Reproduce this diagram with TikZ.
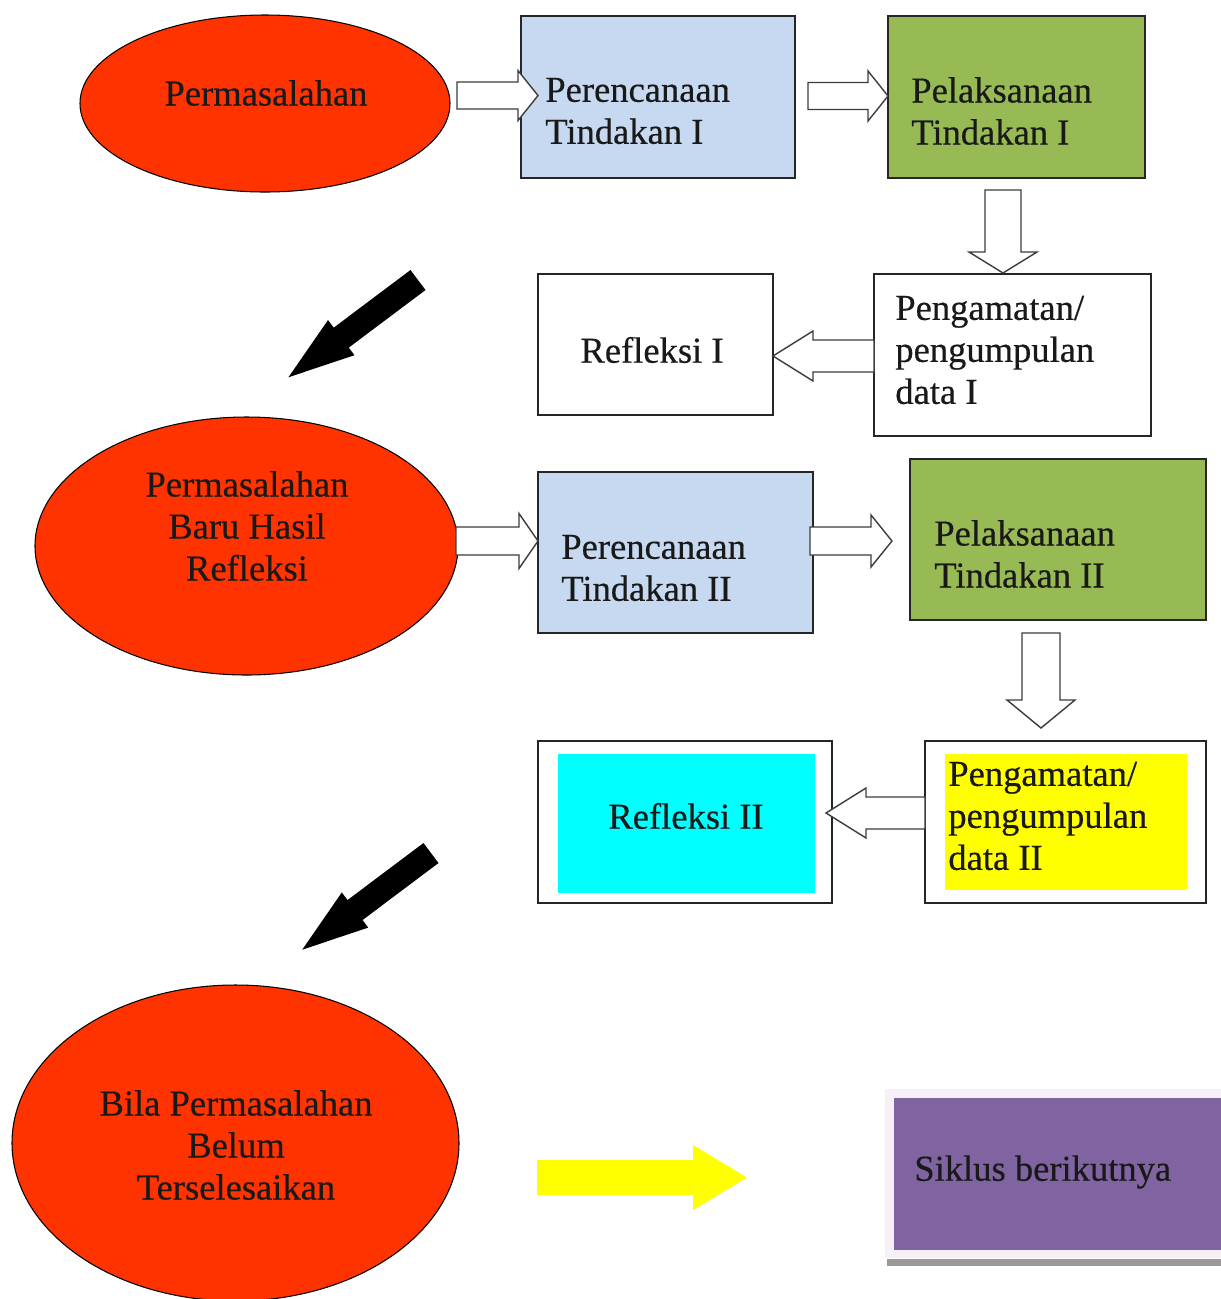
\documentclass[tikz,border=0pt]{standalone}
\usepackage{fontspec}
\setmainfont[FakeBold=0.4]{Liberation Serif}
\usetikzlibrary{fit,shapes.geometric}
\definecolor{redE}{RGB}{255,51,0}
\definecolor{lblue}{RGB}{198,217,240}
\definecolor{lgreen}{RGB}{152,186,84}
\definecolor{cyanF}{RGB}{0,255,255}
\definecolor{yelF}{RGB}{255,255,0}
\definecolor{purF}{RGB}{128,100,162}
\definecolor{lavF}{RGB}{246,240,248}
\definecolor{txt}{RGB}{25,25,25}
\definecolor{arrline}{RGB}{60,60,60}
\newcommand{\blockarr}[8]{%
  \begin{scope}[shift={(#2,#3)},rotate=#4]
    \path[#1] (0,-#6) -- ({#5-#8},-#6) -- ({#5-#8},-#7) -- (#5,0) -- ({#5-#8},#7) -- ({#5-#8},#6) -- (0,#6) -- cycle;
  \end{scope}}
\begin{document}
\begin{tikzpicture}[x=0.02cm,y=-0.02cm,
  lbl/.style={font=\fontsize{20.8}{23.9}\selectfont, text=txt, inner sep=0pt, align=left},
  clbl/.style={lbl, align=center},
  ell/.style={ellipse, draw=black, line width=0.6pt, fill=redE, inner sep=0pt},
  box/.style={rectangle, draw=black!85, line width=0.8pt, inner sep=0pt},
  plain/.style={rectangle, inner sep=0pt},
  hollow/.style={draw=arrline, fill=white, line width=0.8pt, line join=miter},
  solidarr/.style={fill=black},
  yelarr/.style={fill=yelF}
]
\useasboundingbox (0,0) rectangle (1221,1299);
\clip (0,0) rectangle (1221,1299);
\fill[white] (0,0) rectangle (1221,1299);

% ellipses
\node[ell, minimum width={370*0.02cm}, minimum height={177*0.02cm}] (e1) at (265,103.5) {};
\node[ell, minimum width={423*0.02cm}, minimum height={258*0.02cm}] (e2) at (246.5,546) {};
\node[ell, minimum width={447*0.02cm}, minimum height={316*0.02cm}] (e3) at (235.5,1143) {};

% boxes
\node[box, fill=lblue, fit={(521,16)(795,178)}] (pt1) {};
\node[box, fill=lgreen, fit={(888,16)(1145,178)}] (pl1) {};
\node[box, fill=white, fit={(874,274)(1151,436)}] (pg1) {};
\node[box, fill=white, fit={(538,274)(773,415)}] (rf1) {};
\node[box, fill=lblue, fit={(538,472)(813,633)}] (pt2) {};
\node[box, fill=lgreen, fit={(910,459)(1206,620)}] (pl2) {};
\node[box, fill=white, fit={(925,741)(1206,903)}] (pg2) {};
\node[plain, fill=yelF, fit={(945,754)(1187,890)}] (pg2in) {};
\node[box, fill=white, fit={(538,741)(832,903)}] (rf2) {};
\node[plain, fill=cyanF, fit={(558,754)(815,893)}] (rf2in) {};
\node[plain, fill=black!40, fit={(887,1259)(1221,1266)}] (shad) {};
\node[plain, fill=lavF, fit={(885,1089)(1221,1258)}] (sk) {};
\node[plain, fill=purF, fit={(894,1098)(1221,1250)}] (skin) {};

% block arrows
\blockarr{hollow}{457}{95.5}{0}{81}{13.5}{25}{20}
\blockarr{hollow}{808}{96}{0}{80}{13.5}{25}{20}
\blockarr{hollow}{1003}{190}{270}{83}{18}{34}{21}
\blockarr{hollow}{874}{356}{180}{101}{16}{25}{40}
\blockarr{hollow}{456}{541}{0}{82}{14}{27.5}{19}
\blockarr{hollow}{810}{541}{0}{82}{14}{26}{21}
\blockarr{hollow}{1041}{633}{270}{95}{19}{34}{28}
\blockarr{hollow}{925}{813}{180}{99}{16}{25}{40}
\blockarr{yelarr}{537}{1177.5}{0}{210}{17.5}{32.5}{54}
\blockarr{solidarr}{418}{280}{216.9}{162}{12.5}{22}{66}
\blockarr{solidarr}{431}{853}{216.9}{161}{12.5}{22}{66}

% labels
\node[clbl] (te1) at (266,93) {Permasalahan};
\node[lbl, anchor=west] (tpt1) at (545,111) {Perencanaan\\Tindakan I};
\node[lbl, anchor=west] (tpl1) at (911,111) {Pelaksanaan\\Tindakan I};
\node[lbl, anchor=west] (tpg1) at (895,350) {Pengamatan/\\pengumpulan\\data I};
\node[clbl] (trf1) at (652,350) {Refleksi I};
\node[clbl] (te2) at (247,526) {Permasalahan\\Baru Hasil\\Refleksi};
\node[lbl, anchor=west] (tpt2) at (561,568) {Perencanaan\\Tindakan II};
\node[lbl, anchor=west] (tpl2) at (934,554) {Pelaksanaan\\Tindakan II};
\node[lbl, anchor=west] (tpg2) at (948,816) {Pengamatan/\\pengumpulan\\data II};
\node[clbl] (trf2) at (686,816) {Refleksi II};
\node[clbl] (te3) at (236,1145) {Bila Permasalahan\\Belum\\Terselesaikan};
\node[lbl, anchor=west] (tsk) at (914,1172) {Siklus berikutnya};
\end{tikzpicture}
\end{document}
